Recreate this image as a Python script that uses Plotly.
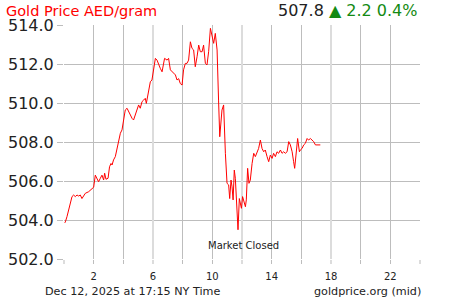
import plotly.graph_objects as go

# Hours since midnight (NY time) and gold price in AED/gram
hours = [0.05, 0.09, 0.20, 0.31, 0.42, 0.54, 0.65, 0.76, 0.88, 0.98, 1.10, 1.21, 1.32, 1.44, 1.66, 1.89,
         2.00, 2.11, 2.23, 2.33, 2.45, 2.56, 2.67, 2.74, 2.83, 2.97, 3.07, 3.17, 3.24, 3.34, 3.46, 3.57,
         3.80, 3.91, 4.02, 4.13, 4.25, 4.36, 4.47, 4.59, 4.69, 4.81, 4.92, 5.03, 5.14, 5.26, 5.37, 5.48,
         5.55, 5.70, 5.82, 5.93, 6.04, 6.16, 6.27, 6.38, 6.49, 6.61, 6.72, 6.78, 6.95, 7.05, 7.17, 7.28,
         7.39, 7.51, 7.62, 7.73, 7.84, 7.96, 8.06, 8.18, 8.29, 8.40, 8.52, 8.63, 8.74, 8.85, 8.97, 9.08,
         9.19, 9.31, 9.41, 9.53, 9.64, 9.75, 9.87, 9.98, 10.09, 10.20, 10.32, 10.42, 10.50, 10.65, 10.76,
         10.88, 10.99, 11.10, 11.17, 11.26, 11.33, 11.40, 11.48, 11.55, 11.67, 11.73, 11.82, 11.89, 11.96,
         12.04, 12.11, 12.23, 12.29, 12.38, 12.47, 12.56, 12.68, 12.79, 12.90, 13.01, 13.12, 13.24, 13.35,
         13.46, 13.57, 13.69, 13.80, 13.91, 14.03, 14.13, 14.25, 14.36, 14.47, 14.59, 14.70, 14.81, 14.92,
         15.04, 15.15, 15.26, 15.38, 15.48, 15.55, 15.64, 15.75, 15.87, 15.93, 16.05, 16.16, 16.27, 16.39,
         16.49, 16.61, 16.72, 16.83, 16.95, 17.28]
prices = [503.85, 503.9, 504.17, 504.5, 504.94, 505.2, 505.28, 505.2, 505.28, 505.23, 505.28, 505.1, 505.23, 505.37, 505.45, 505.62,
          505.68, 506.3, 506.14, 505.96, 506.14, 506.3, 506.05, 506.4, 506.09, 506.14, 506.73, 506.9, 506.82, 507.08, 507.25, 507.59,
          508.45, 508.62, 509.13, 509.64, 509.73, 509.56, 509.38, 509.21, 509.13, 509.38, 509.56, 509.9, 509.73, 510.07, 510.15, 510.24,
          509.98, 510.58, 511.09, 511.18, 511.7, 512.29, 512.2, 511.95, 511.78, 511.6, 512.03, 512.29, 512.2, 512.29, 511.7, 511.6,
          511.52, 511.44, 511.18, 511.25, 511.0, 510.92, 511.7, 512.03, 512.03, 512.2, 513.14, 512.8, 512.72, 511.86, 512.37, 512.97,
          512.63, 512.63, 512.97, 512.03, 511.95, 512.63, 513.83, 513.49, 513.06, 513.57, 512.72, 510.15, 508.27, 509.64, 509.9,
          507.42, 505.88, 505.8, 505.1, 506.05, 505.7, 505.03, 506.56, 506.14, 504.5, 503.5, 505.1, 504.77, 504.6,
          505.2, 505.03, 504.68, 505.03, 506.65, 505.88, 506.05, 506.9, 507.42, 507.25, 507.5, 507.67, 508.1, 507.67,
          507.5, 507.59, 507.25, 506.99, 507.33, 507.16, 507.42, 507.25, 507.5, 507.42, 507.59, 507.42, 507.5, 507.42,
          507.5, 508.02, 507.85, 507.5, 506.99, 506.65, 507.33, 508.18, 507.5, 507.59, 507.67, 507.85, 507.93, 508.18,
          508.1, 508.18, 508.1, 508.02, 507.85, 507.85]

y_ticks = [502, 504, 506, 508, 510, 512, 514]
x_label_ticks = [2, 6, 10, 14, 18, 22]
x_major_grid = [0, 6, 12, 18, 24]

title_text = "Gold Price AED/gram"
last_price = "507.8"
change_text = "▲ 2.2 0.4%"
footer_left = "Dec 12, 2025 at 17:15 NY Time"
footer_right = "goldprice.org (mid)"
closed_text = "Market Closed"

FONT = "DejaVu Sans"
GRID = "#bdbdbd"
GRID_LIGHT = "#dcdcdc"

fig = go.Figure()
fig.add_trace(go.Scatter(x=hours, y=prices, mode="lines",
                         line=dict(color="#ff0000", width=1), hoverinfo="skip", showlegend=False))
fig.add_trace(go.Scatter(x=[], y=[], xaxis="x2", yaxis="y", showlegend=False))

fig.update_layout(
    template="none",
    width=450, height=300,
    margin=dict(l=64, r=30, t=25, b=41, autoexpand=False),
    paper_bgcolor="white", plot_bgcolor="white",
    font=dict(family=FONT, color="#222222"),
    xaxis=dict(range=[0, 24], tickmode="array", tickvals=x_label_ticks,
               ticktext=[str(v) for v in x_label_ticks], automargin=False,
               showgrid=True, gridcolor=GRID, gridwidth=1,
               ticks="outside", ticklen=4, tickcolor=GRID, ticklabelstandoff=4,
               minor=dict(dtick=2, tick0=0, showgrid=True, gridcolor=GRID, gridwidth=1,
                          ticks="outside", ticklen=4, tickcolor=GRID),
               tickfont=dict(size=10, color="#222222", family=FONT),
               zeroline=False, showline=False, fixedrange=True),
    xaxis2=dict(range=[0, 24], overlaying="x", anchor="y", side="bottom", automargin=False,
                tickmode="array", tickvals=x_major_grid, showticklabels=False,
                showgrid=True, gridcolor=GRID_LIGHT, gridwidth=2,
                ticks="outside", ticklen=4, tickcolor=GRID_LIGHT, tickwidth=2,
                zeroline=False, showline=False),
    yaxis=dict(range=[502, 514], tickmode="array", tickvals=y_ticks, automargin=False,
               tickformat=".1f", showgrid=True, gridcolor=GRID, gridwidth=1,
               ticks="outside", ticklen=6, tickcolor=GRID, ticklabelstandoff=0,
               tickfont=dict(size=16, color="#222222", family=FONT),
               zeroline=False, showline=False, fixedrange=True),
    annotations=[
        dict(text=title_text, xref="paper", yref="paper", x=(4 - 64) / 356, y=(259 - 11) / 234,
             xanchor="left", yanchor="middle", showarrow=False,
             font=dict(family=FONT, size=14.5, color="#ff0000")),
        dict(text=f"{last_price} <span style='color:#138a13'>{change_text}</span>",
             xref="paper", yref="paper", x=(419 - 64) / 356, y=(259 - 11) / 234,
             xanchor="right", yanchor="middle", showarrow=False,
             font=dict(family=FONT, size=16, color="#222222")),
        dict(text=footer_left, xref="paper", yref="paper", x=(43 - 64) / 356, y=(259 - 291) / 234,
             xanchor="left", yanchor="middle", showarrow=False,
             font=dict(family=FONT, size=11.2, color="#222222")),
        dict(text=footer_right, xref="paper", yref="paper", x=(423 - 64) / 356, y=(259 - 291) / 234,
             xanchor="right", yanchor="middle", showarrow=False,
             font=dict(family=FONT, size=11.2, color="#222222")),
        dict(text=closed_text, xref="x", yref="y", x=12.12, y=502.68,
             xanchor="center", yanchor="middle", showarrow=False,
             font=dict(family=FONT, size=10, color="#222222")),
    ],
)

fig.write_html("out.html", config={"displayModeBar": False})
